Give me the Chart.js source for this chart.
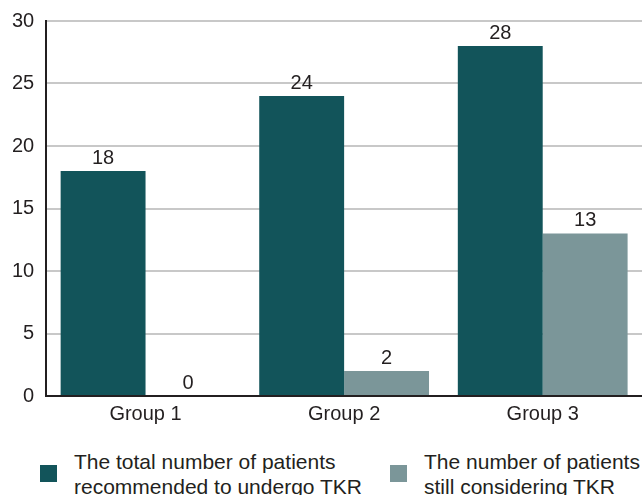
<!DOCTYPE html>
<html>
<head>
<meta charset="utf-8">
<script src="https://cdn.jsdelivr.net/npm/chart.js@4/dist/chart.umd.min.js"></script>
<style>
    body { margin: 0; background: #fff; font-family: "Liberation Sans", Arial, sans-serif; }
    #wrap { position: relative; width: 642px; height: 432px; }
    #legend { position: absolute; top: 449px; left: 0; width: 642px; height: 46px; color: #231f20; font-size: 21px; line-height: 25px; }
    .item { position: absolute; top: 0; }
    .box { position: absolute; top: 16px; width: 17px; height: 17px; }
    .txt { position: absolute; top: 0; white-space: nowrap; }
</style>
</head>
<body>
<div id="wrap"><canvas id="patientChart"></canvas></div>
<div id="legend"></div>
<script>
const groups = ['Group 1', 'Group 2', 'Group 3'];
const recommended = [18, 24, 28];
const considering = [0, 2, 13];
const seriesLabels = [
    ['The total number of patients', 'recommended to undergo TKR'],
    ['The number of patients', 'still considering TKR']
];
const yTicks = [0, 5, 10, 15, 20, 25, 30];

const darkTeal = '#12545a';
const greyTeal = '#7b9699';
const fontFamily = '"Liberation Sans", Arial, sans-serif';

// writes each bar's value just above it
const valueLabels = {
    id: 'valueLabels',
    afterDatasetsDraw(chart) {
        const ctx = chart.ctx;
        ctx.save();
        ctx.font = '20px ' + fontFamily;
        ctx.fillStyle = '#231f20';
        ctx.textAlign = 'center';
        ctx.textBaseline = 'bottom';
        chart.data.datasets.forEach((ds, i) => {
            chart.getDatasetMeta(i).data.forEach((bar, j) => {
                ctx.fillText(ds.data[j], bar.x, bar.y - 3);
            });
        });
        ctx.restore();
    }
};

const chartCtx = document.getElementById('patientChart').getContext('2d');
const patientChart = new Chart(chartCtx, {
    type: 'bar',
    data: {
        labels: groups,
        datasets: [{
            label: seriesLabels[0].join(' '),
            data: recommended,
            backgroundColor: darkTeal
        }, {
            label: seriesLabels[1].join(' '),
            data: considering,
            backgroundColor: greyTeal
        }]
    },
    options: {
        responsive: true,
        maintainAspectRatio: false,
        animation: false,
        layout: { padding: { top: 0, right: 0, left: 0, bottom: 0 } },
        datasets: { bar: { categoryPercentage: 0.855, barPercentage: 1 } },
        plugins: {
            legend: { display: false },
            tooltip: { enabled: false }
        },
        scales: {
            x: {
                grid: { display: false, drawTicks: false },
                border: { color: '#231f20', width: 2 },
                ticks: {
                    color: '#231f20',
                    padding: 6,
                    font: { family: fontFamily, size: 20 }
                }
            },
            y: {
                min: 0,
                max: 30,
                afterBuildTicks(axis) {
                    axis.ticks = yTicks.map(v => ({ value: v }));
                },
                grid: { color: '#c8c8c8', lineWidth: 2, drawTicks: false },
                border: { color: '#231f20', width: 2 },
                ticks: {
                    color: '#231f20',
                    padding: 12,
                    font: { family: fontFamily, size: 20, lineHeight: 0.9 }
                }
            }
        }
    },
    plugins: [valueLabels]
});

// two-line legend beneath the plot
const legendEl = document.getElementById('legend');
const legendPos = [40, 390];
[darkTeal, greyTeal].forEach((color, i) => {
    const item = document.createElement('div');
    item.className = 'item';
    item.style.left = legendPos[i] + 'px';
    item.innerHTML = '<div class="box" style="background:' + color + '"></div>' +
        '<div class="txt" style="left:34px">' + seriesLabels[i].join('<br>') + '</div>';
    legendEl.appendChild(item);
});
</script>
</body>
</html>
